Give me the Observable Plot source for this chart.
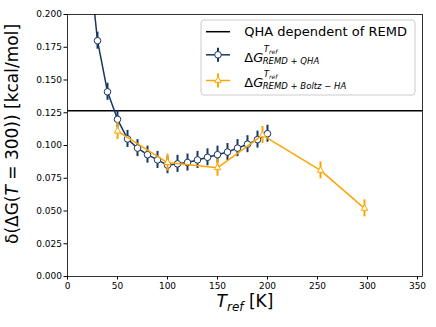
<!DOCTYPE html>
<html>
<head>
<meta charset="utf-8">
<script src="https://cdn.jsdelivr.net/npm/d3@7"></script>
<script src="https://cdn.jsdelivr.net/npm/@observablehq/plot@0.6"></script>
<style>
  html, body { margin: 0; padding: 0; background: white; }
  #chart { width: 436px; height: 327px; }
</style>
</head>
<body>
<div id="chart"></div>
<script>
// ---- data ----
const qhaT   = [20, 30, 40, 50, 60, 70, 80, 90, 100, 110, 120, 130, 140, 150, 160, 170, 180, 190, 200];
const qhaVal = [0.253, 0.180, 0.141, 0.120, 0.105, 0.098, 0.093, 0.089, 0.085, 0.086, 0.087, 0.089, 0.091, 0.093, 0.095, 0.098, 0.101, 0.1045, 0.109];
const qhaErr = [0.0065, 0.0065, 0.0065, 0.0065, 0.0065, 0.0065, 0.0065, 0.0065, 0.0065, 0.0065, 0.0065, 0.0065, 0.0065, 0.0065, 0.0065, 0.0065, 0.0065, 0.0065, 0.0065];

const boltzT   = [50, 100, 150, 195, 253, 297];
const boltzVal = [0.111, 0.087, 0.083, 0.108, 0.081, 0.052];
const boltzErr = [0.0065, 0.0065, 0.0065, 0.0065, 0.0065, 0.0065];

const qhaRemd = 0.1266;

const xTicks = [0, 50, 100, 150, 200, 250, 300, 350];
const yTicks = [0, 0.025, 0.05, 0.075, 0.1, 0.125, 0.15, 0.175, 0.2];

const legendLabels = ["QHA dependent of REMD", "REMD + QHA", "REMD + Boltz \u2212 HA"];

const blue = "#173660";
const orange = "#ffa500";

const qha = qhaT.map((t, i) => ({T: t, v: qhaVal[i], e: qhaErr[i]}));
const boltz = boltzT.map((t, i) => ({T: t, v: boltzVal[i], e: boltzErr[i]}));

const chart = Plot.plot({
  width: 436,
  height: 327,
  marginLeft: 67,
  marginRight: 14,
  marginTop: 14,
  marginBottom: 51,
  style: {fontFamily: "DejaVu Sans", fontSize: "9px", background: "white", color: "black", overflow: "visible"},
  x: {domain: [0, 355], ticks: xTicks, tickFormat: d => String(d), tickSize: 3.5, tickPadding: 2.5, label: null},
  y: {domain: [0, 0.2], ticks: yTicks, tickFormat: d3.format(".3f"), tickSize: 3.5, tickPadding: 2, label: null},
  marks: [
    Plot.ruleY([qhaRemd], {stroke: "black", strokeWidth: 1.5}),
    Plot.ruleX(qha, {x: "T", y1: d => d.v - d.e, y2: d => d.v + d.e, stroke: blue, strokeWidth: 2, clip: true}),
    Plot.line(qha, {x: "T", y: "v", stroke: blue, strokeWidth: 1.5, clip: true}),
    Plot.dot(qha, {x: "T", y: "v", r: 3.3, fill: "white", stroke: blue, strokeWidth: 1, clip: true}),
    Plot.ruleX(boltz, {x: "T", y1: d => d.v - d.e, y2: d => d.v + d.e, stroke: orange, strokeWidth: 2, clip: true}),
    Plot.line(boltz, {x: "T", y: "v", stroke: orange, strokeWidth: 1.5, clip: true}),
    Plot.dot(boltz, {x: "T", y: "v", r: 2.4, symbol: "triangle", fill: "white", stroke: orange, strokeWidth: 1, clip: true}),
    Plot.frame({stroke: "black", strokeWidth: 0.8})
  ]
});

document.getElementById("chart").appendChild(chart);

const svg = d3.select(chart);
const F = "DejaVu Sans";

// y label
const yl = svg.append("text")
  .attr("transform", "translate(17.5,134) rotate(-90)")
  .attr("text-anchor", "middle")
  .attr("font-family", F).attr("font-size", 17).attr("fill", "black");
yl.append("tspan").text("\u03b4(\u0394G(");
yl.append("tspan").attr("font-style", "italic").text("T");
yl.append("tspan").text(" = 300)) [kcal/mol]");

// x label
const xl = svg.append("text")
  .attr("x", 245).attr("y", 307)
  .attr("text-anchor", "middle")
  .attr("font-family", F).attr("font-size", 17).attr("fill", "black");
xl.append("tspan").attr("font-style", "italic").text("T");
xl.append("tspan").attr("font-style", "italic").attr("font-size", 12).attr("dy", 3.5).text("ref");
xl.append("tspan").attr("dy", -3.5).text(" [K]");

// legend
const lg = svg.append("g").attr("font-family", F).attr("fill", "black").attr("text-anchor", "start");
lg.append("rect").attr("x", 201).attr("y", 20).attr("width", 214).attr("height", 75)
  .attr("rx", 3).attr("fill", "white").attr("fill-opacity", 0.8).attr("stroke", "#cccccc").attr("stroke-width", 1);

// row 1
lg.append("line").attr("x1", 206).attr("x2", 230).attr("y1", 31.7).attr("y2", 31.7)
  .attr("stroke", "black").attr("stroke-width", 1.5);
lg.append("text").attr("x", 244.3).attr("y", 36).attr("font-size", 13).attr("text-anchor", "start").text(legendLabels[0]);

function mathRow(y, color, symbolType, r, sub) {
  const yh = y - 6.8;
  lg.append("line").attr("x1", 206).attr("x2", 230).attr("y1", yh).attr("y2", yh)
    .attr("stroke", color).attr("stroke-width", 1.5);
  lg.append("line").attr("x1", 218).attr("x2", 218).attr("y1", yh - 7).attr("y2", yh + 7)
    .attr("stroke", color).attr("stroke-width", 2);
  lg.append("path").attr("d", d3.symbol(symbolType, r * r * Math.PI)())
    .attr("transform", `translate(218,${yh})`)
    .attr("fill", "white").attr("stroke", color).attr("stroke-width", 1);
  const t = lg.append("text").attr("x", 244.3).attr("y", y).attr("font-size", 13).attr("text-anchor", "start");
  t.append("tspan").text("\u0394");
  t.append("tspan").attr("font-style", "italic").text("G");
  const s = lg.append("text").attr("x", 263.8).attr("y", y - 10).attr("font-size", 8.5)
    .attr("font-style", "italic").attr("text-anchor", "start");
  s.append("tspan").text("T");
  s.append("tspan").attr("font-size", 6).attr("dy", 2).text("ref");
  lg.append("text").attr("x", 262.7).attr("y", y + 2).attr("font-size", 8.5)
    .attr("font-style", "italic").attr("text-anchor", "start").text(sub);
}
mathRow(61.6, blue, d3.symbolCircle, 3.3, legendLabels[1]);
mathRow(87.3, orange, d3.symbolTriangle, 2.4, legendLabels[2]);
</script>
</body>
</html>
